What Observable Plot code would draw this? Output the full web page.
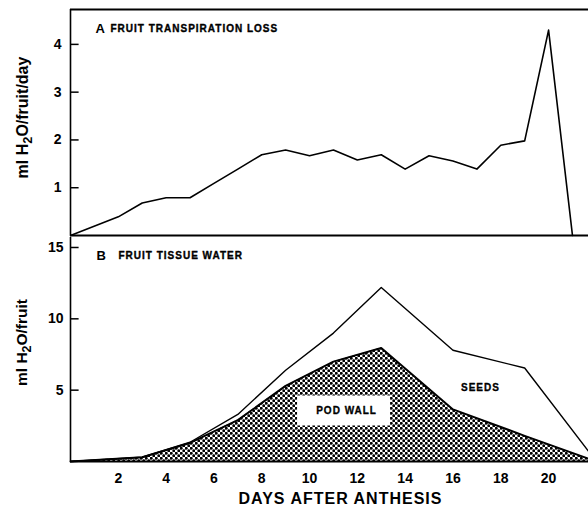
<!DOCTYPE html>
<html>
<head>
<meta charset="utf-8">
<script src="https://cdn.jsdelivr.net/npm/d3@7"></script>
<script src="https://cdn.jsdelivr.net/npm/@observablehq/plot@0.6"></script>
<style>
  html, body { margin: 0; padding: 0; background: white; }
  #chart svg { display: block; }
</style>
</head>
<body>
<div id="chart"></div>
<script>
// Panel A: fruit transpiration loss (ml H2O/fruit/day)
const daysA = [0, 2, 3, 4, 5, 6, 7, 8, 9, 10, 11, 12, 13, 14, 15, 16, 17, 18, 19, 20, 21];
const transpiration = [0, 0.39, 0.68, 0.79, 0.79, 1.09, 1.39, 1.69, 1.79, 1.67, 1.79, 1.58, 1.69, 1.39, 1.67, 1.56, 1.39, 1.89, 1.98, 4.3, 0];

// Panel B: fruit tissue water (ml H2O/fruit)
const daysB = [0, 3, 5, 7, 9, 11, 13, 16, 19, 22];
const totalWater = [0, 0.3, 1.35, 3.3, 6.4, 9.0, 12.2, 7.8, 6.55, 0];
const podWall = [0, 0.3, 1.3, 2.9, 5.3, 7.0, 7.95, 3.65, 1.8, 0];

const ticksA = [1, 2, 3, 4];
const ticksB = [5, 10, 15];
const ticksX = [2, 4, 6, 8, 10, 12, 14, 16, 18, 20];

const xDomain = [0, 21.67];
const font = "'Liberation Sans', Arial, Helvetica, sans-serif";

const dataA = daysA.map((d, i) => ({day: d, value: transpiration[i]}));
const dataB = daysB.map((d, i) => ({day: d, total: totalWater[i], pod: podWall[i]}));

const style = {fontFamily: font, fontSize: "14px", fontWeight: "bold", background: "white", color: "black", overflow: "visible"};
const small = {fontSize: 10, fontWeight: "bold", fill: "black", stroke: "black", strokeWidth: 0.35};

const plotA = Plot.plot({
  width: 588,
  height: 237,
  marginTop: 9,
  marginBottom: 2,
  marginLeft: 70,
  marginRight: 0,
  style,
  x: {domain: xDomain, axis: null},
  y: {domain: [0, 4.73], axis: null},
  marks: [
    Plot.axisY(ticksA, {tickSize: 0, tickPadding: 9, label: null, fontSize: 14, fontWeight: "bold"}),
    Plot.ruleY(ticksA, {x1: 0, x2: 0.36, strokeWidth: 1.5}),
    Plot.line(dataA, {x: "day", y: "value", stroke: "black", strokeWidth: 1.6}),
    Plot.ruleY([4.73], {strokeWidth: 2.2}),
    Plot.ruleY([0], {strokeWidth: 2.2}),
    Plot.ruleX([0], {strokeWidth: 1.6}),
    Plot.text(["A"], {frameAnchor: "top-left", dx: 25, dy: 19, textAnchor: "start", lineAnchor: "middle", fontSize: 13, fontWeight: "bold"}),
    Plot.text(["FRUIT TRANSPIRATION LOSS"], {frameAnchor: "top-left", dx: 40, dy: 19, textAnchor: "start", lineAnchor: "middle", ...small}),
    Plot.text(["ml H2O/fruit/day"], {frameAnchor: "left", dx: -48, dy: -5, rotate: -90, textAnchor: "middle", fontSize: 16, fontWeight: "bold"})
  ]
});

const plotB = Plot.plot({
  width: 588,
  height: 271,
  marginTop: 0,
  marginBottom: 47,
  marginLeft: 70,
  marginRight: 0,
  style,
  x: {domain: xDomain, axis: null},
  y: {domain: [0, 15.7], axis: null},
  marks: [
    Plot.areaY(dataB, {x: "day", y: "pod", fill: "url(#dots)"}),
    Plot.rect([0], {x1: 9.5, x2: 13.39, y1: 2.49, y2: 4.59, fill: "white"}),
    Plot.line(dataB, {x: "day", y: "total", stroke: "black", strokeWidth: 1.4}),
    Plot.line(dataB, {x: "day", y: "pod", stroke: "black", strokeWidth: 2}),
    Plot.axisY(ticksB, {tickSize: 0, tickPadding: 7, label: null, fontSize: 14, fontWeight: "bold"}),
    Plot.ruleY(ticksB, {x1: 0, x2: 0.36, strokeWidth: 1.5}),
    Plot.axisX(ticksX, {anchor: "bottom", tickSize: 0, tickPadding: 12, label: null, fontSize: 14, fontWeight: "bold"}),
    Plot.ruleY([0], {strokeWidth: 2.2}),
    Plot.ruleX([0], {strokeWidth: 1.6}),
    Plot.text(["B"], {frameAnchor: "top-left", dx: 26, dy: 18, textAnchor: "start", lineAnchor: "middle", fontSize: 13, fontWeight: "bold"}),
    Plot.text(["FRUIT TISSUE WATER"], {frameAnchor: "top-left", dx: 48, dy: 18, textAnchor: "start", lineAnchor: "middle", ...small}),
    Plot.text(["POD WALL"], {x: 11.55, y: 3.54, ...small, strokeWidth: 0.3}),
    Plot.text(["SEEDS"], {x: 17.15, y: 5.15, ...small, strokeWidth: 0.3}),
    Plot.text(["ml H2O/fruit"], {frameAnchor: "left", dx: -48, dy: -7, rotate: -90, textAnchor: "middle", fontSize: 15.5, fontWeight: "bold"}),
    Plot.text(["DAYS AFTER ANTHESIS"], {frameAnchor: "bottom", dx: 11, dy: 37, lineAnchor: "middle", fontSize: 16, fontWeight: "bold"})
  ]
});

// dot pattern used for the pod wall fill
const defs = d3.select(plotB).insert("defs", ":first-child");
const pat = defs.append("pattern")
  .attr("id", "dots")
  .attr("patternUnits", "userSpaceOnUse")
  .attr("width", 5).attr("height", 5);
pat.append("rect").attr("width", 5).attr("height", 5).attr("fill", "white");
pat.append("circle").attr("cx", 1.25).attr("cy", 1.25).attr("r", 1.45).attr("fill", "black");
pat.append("circle").attr("cx", 3.75).attr("cy", 3.75).attr("r", 1.45).attr("fill", "black");

for (const p of [plotA, plotB]) {
  // letter spacing on the small labels
  d3.select(p).selectAll("text").filter(function() { return /POD WALL|SEEDS|DAYS AFTER|FRUIT/.test(this.textContent); })
    .attr("letter-spacing", "1");
  // subscript 2 in the axis titles
  d3.select(p).selectAll("text").filter(function() { return /^ml H2O/.test(this.textContent); })
    .each(function() {
      const rest = this.textContent.slice(5);
      const t = d3.select(this).text("");
      t.append("tspan").text("ml H");
      t.append("tspan").attr("baseline-shift", "-30%").attr("font-size", "0.8em").text("2");
      t.append("tspan").text(rest);
    });
}

document.getElementById("chart").append(plotA, plotB);
</script>
</body>
</html>
